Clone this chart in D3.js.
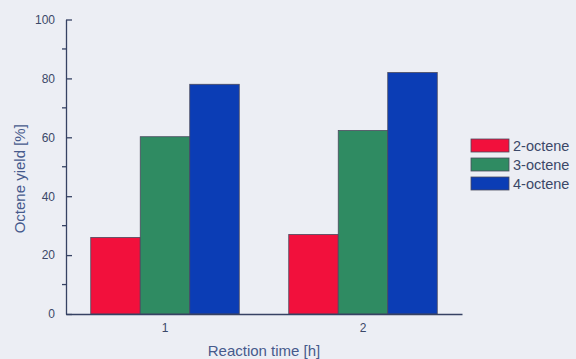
<!DOCTYPE html>
<html>
<head>
<meta charset="utf-8">
<script src="https://cdn.jsdelivr.net/npm/d3@7"></script>
<style>
  html, body { margin: 0; padding: 0; background: #eceef4; }
  svg { display: block; }
  text { font-family: "Liberation Sans", Arial, sans-serif; }
</style>
</head>
<body>
<svg id="chart" width="576" height="359"></svg>
<script>
// Reaction times (h) and octene isomer yields (%)
const categories = ["1", "2"];
const seriesNames = ["2-octene", "3-octene", "4-octene"];
const yield2 = [26, 27];
const yield3 = [60.2, 62.3];
const yield4 = [78, 82];
const yTicks = [0, 20, 40, 60, 80, 100];
const yMinorTicks = [10, 30, 50, 70, 90];

const colors = ["#f2103c", "#2f8b62", "#0b3db5"];
const axisColor = "#364263";
const textColor = "#3b4868";
const titleColor = "#465a8c";

const seriesValues = [yield2, yield3, yield4];
const rows = categories.map((c, i) => ({
  cat: c,
  vals: seriesNames.map((s, j) => ({ key: s, value: seriesValues[j][i], color: colors[j] }))
}));

const svg = d3.select("#chart");
const m = { left: 66, right: 114, top: 19.5, bottom: 45 };
const W = 576, H = 359;

const x = d3.scaleBand().domain(categories)
  .range([m.left, W - m.right]).paddingInner(0.25).paddingOuter(0.125);
const xs = d3.scaleBand().domain(seriesNames).range([0, x.bandwidth()]);
const y = d3.scaleLinear().domain([0, 100]).range([H - m.bottom, m.top]);

// bars
const g = svg.append("g");
rows.forEach(r => {
  g.selectAll(null).data(r.vals).enter().append("rect")
    .attr("x", d => x(r.cat) + xs(d.key))
    .attr("y", d => y(d.value))
    .attr("width", xs.bandwidth())
    .attr("height", d => y(0) - y(d.value))
    .attr("fill", d => d.color)
    .attr("stroke", "#4a4a5e")
    .attr("stroke-width", 0.8);
});

// y axis: major ticks crossing the spine, minor ticks outside
const yAxis = svg.append("g").attr("transform", `translate(${m.left},0)`)
  .call(d3.axisLeft(y).tickValues(yTicks).tickSize(6).tickPadding(5).tickSizeOuter(0));
yAxis.selectAll(".tick line").attr("x2", 6);
yAxis.append("g").selectAll("line").data(yMinorTicks).enter().append("line")
  .attr("x1", -4).attr("x2", 0).attr("y1", d => y(d)).attr("y2", d => y(d));
yAxis.selectAll("line, path").attr("stroke", axisColor).attr("stroke-width", 1.3);
yAxis.selectAll("text").attr("fill", textColor).attr("font-size", 12)
  .attr("font-family", "Liberation Sans, Arial, sans-serif");

// x axis
const xAxis = svg.append("g").attr("transform", `translate(0,${y(0)})`)
  .call(d3.axisBottom(x).tickSize(0).tickPadding(9).tickSizeOuter(0));
xAxis.select(".domain").attr("stroke", axisColor).attr("stroke-width", 1.3);
xAxis.selectAll("text").attr("fill", textColor).attr("font-size", 12)
  .attr("font-family", "Liberation Sans, Arial, sans-serif");

// axis titles
svg.append("text")
  .attr("transform", `translate(25,${(y(0) + y(100)) / 2 + 12}) rotate(-90)`)
  .attr("text-anchor", "middle").attr("fill", titleColor).attr("font-size", 15)
  .text("Octene yield [%]");
svg.append("text")
  .attr("x", (m.left + W - m.right) / 2).attr("y", 356)
  .attr("text-anchor", "middle").attr("fill", titleColor).attr("font-size", 15)
  .text("Reaction time [h]");

// legend
const lg = svg.append("g").attr("transform", "translate(471,139)");
seriesNames.forEach((s, i) => {
  const row = lg.append("g").attr("transform", `translate(0,${i * 19})`);
  row.append("rect").attr("width", 38).attr("height", 13)
    .attr("fill", colors[i]).attr("stroke", "#4a4a5e").attr("stroke-width", 0.8);
  row.append("text").attr("x", 42).attr("y", 11.5).attr("fill", textColor)
    .attr("font-size", 14.5).text(s);
});
</script>
</body>
</html>
